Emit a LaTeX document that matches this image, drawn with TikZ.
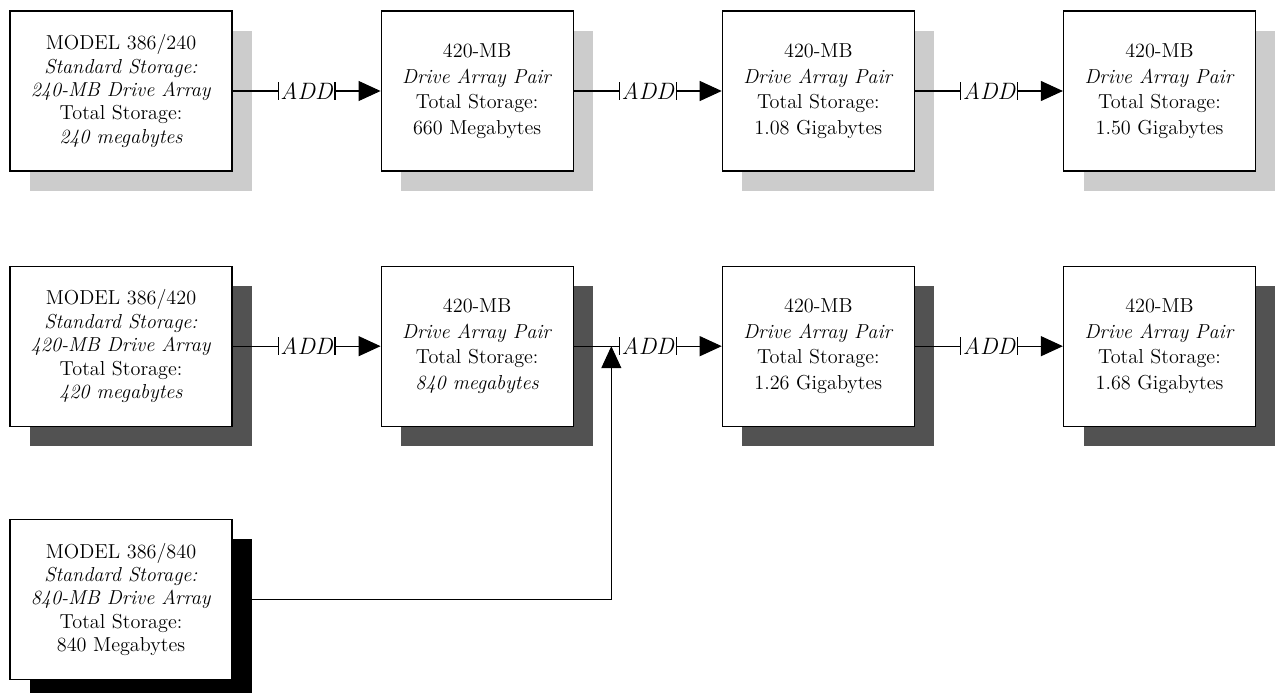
\documentclass[tikz,border=0pt]{standalone}
\usepackage{tikz}
\usetikzlibrary{arrows.meta, positioning, shadows}

\definecolor{shadelight}{gray}{0.80}
\definecolor{shadedark}{gray}{0.32}

\begin{document}
\begin{tikzpicture}[
    x=0.02cm, y=-0.02cm,
    every node/.style={font=\fontsize{11.5}{13.3}\selectfont},
    box/.style={draw, line width=0.7pt, fill=white, minimum width=3.84cm,
                minimum height=3.2cm, align=center, inner sep=2pt},
    wide/.style={minimum width=4.44cm},
    pair/.style={font=\fontsize{11.5}{14.6}\selectfont},
    lightsh/.style={drop shadow={shadow xshift=0.4cm, shadow yshift=-0.4cm, fill=shadelight, opacity=1}},
    darksh/.style={drop shadow={shadow xshift=0.4cm, shadow yshift=-0.4cm, fill=shadedark, opacity=1}},
    blacksh/.style={drop shadow={shadow xshift=0.4cm, shadow yshift=-0.4cm, fill=black, opacity=1}},
    addlbl/.style={font=\fontsize{13.5}{14}\selectfont\itshape, minimum height=0.32cm,
                   inner xsep=1pt, inner ysep=0pt},
    arr/.style={-{Triangle[length=0.44cm, width=0.4cm]}},
    line width=0.6pt
]
\useasboundingbox (0,0) rectangle (1275,693);

% top row
\node[box, wide, lightsh] (m240) at (121,91)
    {MODEL 386/240\\ \textit{Standard Storage:}\\ \textit{240-MB Drive Array}\\ Total Storage:\\ \textit{240 megabytes}};
\node[box, pair, lightsh, right=2.96cm of m240] (p660)
    {420-MB\\ \textit{Drive Array Pair}\\ Total Storage:\\ 660 Megabytes};
\node[box, pair, lightsh, right=2.96cm of p660] (p108)
    {420-MB\\ \textit{Drive Array Pair}\\ Total Storage:\\ 1.08 Gigabytes};
\node[box, pair, lightsh, right=2.96cm of p108] (p150)
    {420-MB\\ \textit{Drive Array Pair}\\ Total Storage:\\ 1.50 Gigabytes};

% middle row
\node[box, wide, darksh, below=1.88cm of m240] (m420)
    {MODEL 386/420\\ \textit{Standard Storage:}\\ \textit{420-MB Drive Array}\\ Total Storage:\\ \textit{420 megabytes}};
\node[box, pair, darksh, right=2.96cm of m420] (p840)
    {420-MB\\ \textit{Drive Array Pair}\\ Total Storage:\\ \textit{840 megabytes}};
\node[box, pair, darksh, right=2.96cm of p840] (p126)
    {420-MB\\ \textit{Drive Array Pair}\\ Total Storage:\\ 1.26 Gigabytes};
\node[box, pair, darksh, right=2.96cm of p126] (p168)
    {420-MB\\ \textit{Drive Array Pair}\\ Total Storage:\\ 1.68 Gigabytes};

% bottom row
\node[box, wide, blacksh, below=1.84cm of m420] (m840)
    {MODEL 386/840\\ \textit{Standard Storage:}\\ \textit{840-MB Drive Array}\\ Total Storage:\\ 840 Megabytes};

% ADD labels
\path (m240.east) -- node[addlbl] (a1) {ADD} (p660.west);
\path (p660.east) -- node[addlbl] (a2) {ADD} (p108.west);
\path (p108.east) -- node[addlbl] (a3) {ADD} (p150.west);
\path (m420.east) -- node[addlbl] (a4) {ADD} (p840.west);
\path (p840.east) -- node[addlbl] (a5) {ADD} (p126.west);
\path (p126.east) -- node[addlbl] (a6) {ADD} (p168.west);
\foreach \a in {a1,a2,a3,a4,a5,a6}
    \draw (\a.north west) -- (\a.south west) (\a.north east) -- (\a.south east);

% connectors
\draw (m240.east) -- (a1.west);
\draw[arr] (a1.east) -- (p660.west);
\draw (p660.east) -- (a2.west);
\draw[arr] (a2.east) -- (p108.west);
\draw (p108.east) -- (a3.west);
\draw[arr] (a3.east) -- (p150.west);
\draw (m420.east) -- (a4.west);
\draw[arr] (a4.east) -- (p840.west);
\draw (p840.east) -- (a5.west);
\draw[arr] (a5.east) -- (p126.west);
\draw (p126.east) -- (a6.west);
\draw[arr] (a6.east) -- (p168.west);

\coordinate (join) at ([xshift=-0.16cm]a5.west);
\draw[arr] (m840.east) -| (join);
\end{tikzpicture}
\end{document}
